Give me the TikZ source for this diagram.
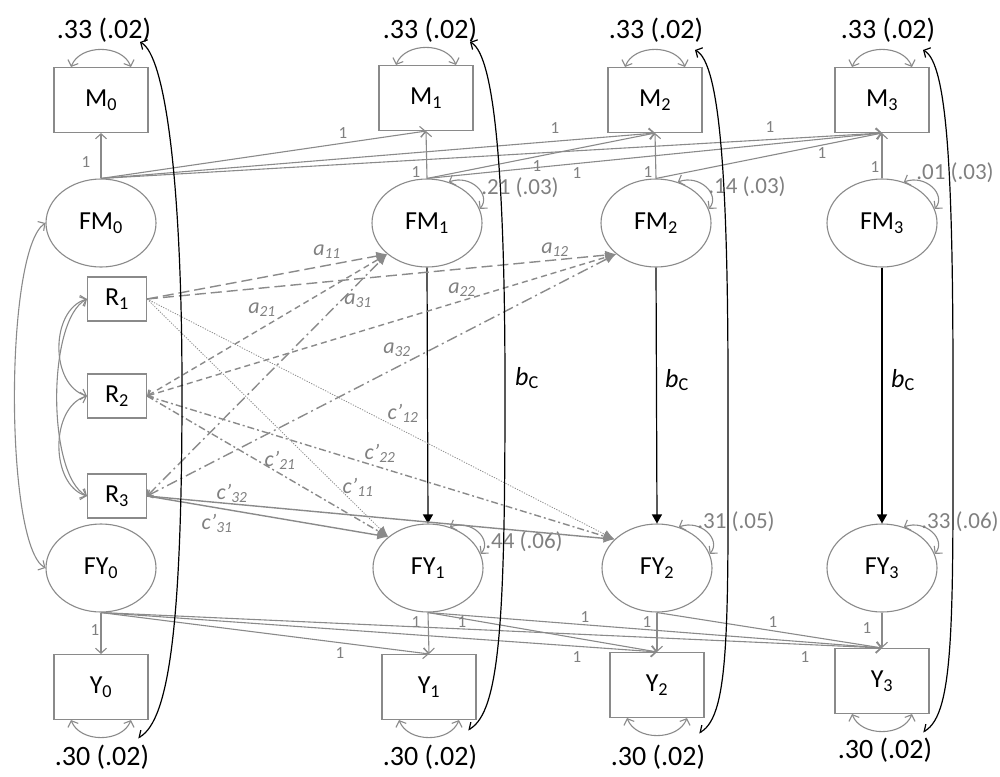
\documentclass[tikz,border=0pt]{standalone}
\usepackage{fontspec}
\setmainfont{Carlito}
\usetikzlibrary{arrows.meta,shapes.geometric}
\definecolor{ln}{RGB}{138,138,138}
\definecolor{tx}{RGB}{128,128,128}
\begin{document}
\begin{tikzpicture}[x=1pt,y=-1pt,
  nfont/.style={font=\fontsize{26}{30}\selectfont},
  box/.style={draw=ln, line width=1.1pt, minimum width=94pt, minimum height=65pt, inner sep=0pt, nfont},
  rbox/.style={draw=ln, line width=1.1pt, minimum width=59pt, minimum height=44pt, inner sep=0pt, nfont},
  lat/.style={ellipse, draw=ln, line width=1.1pt, minimum width=110pt, minimum height=88pt, inner sep=0pt, nfont},
  ld/.style={draw=ln, line width=1.1pt, -{Straight Barb[length=5pt,width=11pt]}},
  cov/.style={draw=ln, line width=1.1pt, {Straight Barb[length=5pt,width=11pt]}-{Straight Barb[length=5pt,width=11pt]}},
  bk/.style={draw=black, line width=1.2pt, -{Triangle[length=9pt,width=10pt]}},
  bc/.style={draw=black, line width=1.2pt, {Straight Barb[length=5pt,width=11pt]}-{Straight Barb[harpoon,swap,length=5pt,width=11pt]}},
  pa/.style={draw=ln, line width=1.4pt, -{Latex[length=11pt,width=9pt]}},
  pas/.style={draw=ln, line width=1.4pt, {Straight Barb[length=4pt,width=9pt]}-{Latex[length=11pt,width=9pt]}},
  longdash/.style={dash pattern=on 11pt off 5pt},
  shortdash/.style={dash pattern=on 6pt off 4pt},
  dashdot/.style={dash pattern=on 11pt off 4pt on 2pt off 4pt},
  dashdotb/.style={dash pattern=on 7pt off 3pt on 2pt off 3pt},
  fine/.style={line width=0.8pt, dash pattern=on 1.2pt off 1.4pt},
  one/.style={text=tx, font=\fontsize{17}{19}\selectfont, inner sep=0pt},
  vtop/.style={text=black, font=\fontsize{28}{32}\selectfont, inner sep=0pt},
  vg/.style={text=tx, font=\fontsize{23}{27}\selectfont, inner sep=0pt},
  plab/.style={text=tx, font=\fontsize{22}{26}\selectfont\itshape, inner sep=0pt},
  blab/.style={text=black, font=\fontsize{26}{30}\selectfont, inner sep=0pt}
]
\useasboundingbox (0,0) rectangle (1000,776);

% observed M
\node[box] (M0) at (101,100) {M\textsubscript{0}};
\node[box] (M1) at (426,98) {M\textsubscript{1}};
\node[box] (M2) at (655,100) {M\textsubscript{2}};
\node[box] (M3) at (882,100) {M\textsubscript{3}};
% latent FM
\node[lat] (FM0) at (101,223) {FM\textsubscript{0}};
\node[lat] (FM1) at (427,223) {FM\textsubscript{1}};
\node[lat] (FM2) at (656,223) {FM\textsubscript{2}};
\node[lat] (FM3) at (882,223) {FM\textsubscript{3}};
% R
\node[rbox] (R1) at (117,299) {R\textsubscript{1}};
\node[rbox] (R2) at (117,396) {R\textsubscript{2}};
\node[rbox] (R3) at (117,496) {R\textsubscript{3}};
% latent FY
\node[lat] (FY0) at (101,568) {FY\textsubscript{0}};
\node[lat] (FY1) at (428,568) {FY\textsubscript{1}};
\node[lat] (FY2) at (657,568) {FY\textsubscript{2}};
\node[lat] (FY3) at (882,568) {FY\textsubscript{3}};
% observed Y
\node[box] (Y0) at (101,687) {Y\textsubscript{0}};
\node[box] (Y1) at (429,687) {Y\textsubscript{1}};
\node[box] (Y2) at (657,685) {Y\textsubscript{2}};
\node[box] (Y3) at (882,681) {Y\textsubscript{3}};

% variance labels
\node[vtop] (vm0) at (104,30) {.33 (.02)};
\node[vtop] (vm1) at (430,30) {.33 (.02)};
\node[vtop] (vm2) at (656,30) {.33 (.02)};
\node[vtop] (vm3) at (888,30) {.33 (.02)};
\node[vtop] (vy0) at (102,757) {.30 (.02)};
\node[vtop] (vy1) at (430,757) {.30 (.02)};
\node[vtop] (vy2) at (658,757) {.30 (.02)};
\node[vtop] (vy3) at (885,750) {.30 (.02)};

% M loops
\foreach \n in {M0,M1,M2,M3}{
  \draw[cov] ([xshift=-30pt]\n.north) .. controls +(9,-23) and +(-9,-23) .. ([xshift=30pt]\n.north);
}
\foreach \n in {Y0,Y1,Y2,Y3}{
  \draw[cov] ([xshift=-30pt]\n.south) .. controls +(9,23) and +(-9,23) .. ([xshift=30pt]\n.south);
}

% residual loops
\foreach \n in {FM1,FM2,FM3,FY1,FY2,FY3}{
  \draw[cov] (\n.62) .. controls +(22,-8) and +(12,-14) .. (\n.15);
}
\node[vg] (rm1) at (520,188) {.21 (.03)};
\node[vg] (rm2) at (747,187) {.14 (.03)};
\node[vg] (rm3) at (955,173) {.01 (.03)};
\node[vg] (ry1) at (524,542) {.44 (.06)};
\node[vg] (ry2) at (736,522) {.31 (.05)};
\node[vg] (ry3) at (960,522) {.33 (.06)};

% loadings FM -> M
\draw[ld] (FM0.north) -- (M0.south);
\draw[ld] (FM0.north) -- (M1.south);
\draw[ld] (FM0.north) -- (M2.south);
\draw[ld] (FM0.north) -- (M3.south);
\draw[ld] (FM1.north) -- (M1.south);
\draw[ld] (FM1.north) -- (M2.south);
\draw[ld] (FM1.north) -- (M3.south);
\draw[ld] (FM2.north) -- (M2.south);
\draw[ld] (FM2.north) -- (M3.south);
\draw[ld] (FM3.north) -- (M3.south);
% loadings FY -> Y
\draw[ld] (FY0.south) -- (Y0.north);
\draw[ld] (FY0.south) -- (Y1.north);
\draw[ld] (FY0.south) -- (Y2.north);
\draw[ld] (FY0.south) -- (Y3.north);
\draw[ld] (FY1.south) -- (Y1.north);
\draw[ld] (FY1.south) -- (Y2.north);
\draw[ld] (FY1.south) -- (Y3.north);
\draw[ld] (FY2.south) -- (Y2.north);
\draw[ld] (FY2.south) -- (Y3.north);
\draw[ld] (FY3.south) -- (Y3.north);

% "1" labels
\node[one] (l1) at (86,162) {1};
\node[one] (l2) at (416,172) {1};
\node[one] (l3) at (648,172) {1};
\node[one] (l4) at (875,167) {1};
\node[one] (l5) at (343,133) {1};
\node[one] (l6) at (555,128) {1};
\node[one] (l7) at (770,127) {1};
\node[one] (l8) at (537,166) {1};
\node[one] (l9) at (577,173) {1};
\node[one] (l10) at (822,153) {1};
\node[one] (l11) at (95,630) {1};
\node[one] (l12) at (416,622) {1};
\node[one] (l13) at (647,622) {1};
\node[one] (l14) at (867,628) {1};
\node[one] (l15) at (340,653) {1};
\node[one] (l16) at (577,657) {1};
\node[one] (l17) at (805,657) {1};
\node[one] (l18) at (462,622) {1};
\node[one] (l19) at (585,617) {1};
\node[one] (l20) at (773,622) {1};

% covariances
\draw[cov] (FM0.west) .. controls +(-41,27) and +(-41,-23) .. (FY0.west);
\draw[cov] (R1.west) .. controls +(-37,11) and +(-37,-11) .. (R2.west);
\draw[cov] (R2.west) .. controls +(-37,11) and +(-37,-11) .. (R3.west);
\draw[cov] (R1.west) .. controls +(-40,21) and +(-40,-21) .. (R3.west);

% b paths
\draw[bk] (FM1.south) -- (FY1.north);
\draw[bk] (FM2.south) -- (FY2.north);
\draw[bk] (FM3.south) -- (FY3.north);
\node[blab] (b1) at (527,378) {\textit{b}\textsubscript{C}};
\node[blab] (b2) at (677,380) {\textit{b}\textsubscript{C}};
\node[blab] (b3) at (903,380) {\textit{b}\textsubscript{C}};

% a paths
\draw[pa,longdash] (R1.east) -- (FM1.218);
\draw[pa,longdash] (R1.east) -- (FM2.218);
\draw[pas,shortdash] (R2.east) -- (FM1.218);
\draw[pas,shortdash] (R2.east) -- (FM2.218);
\draw[pas,dashdot] (R3.east) -- (FM1.218);
\draw[pas,dashdot] (R3.east) -- (FM2.218);
% c' paths
\draw[pa,fine] (R1.east) -- (FY1.142);
\draw[pa,fine] (R1.east) -- (FY2.146);
\draw[pa,dashdotb] (R2.east) -- (FY1.142);
\draw[pa,dashdotb] (R2.east) -- (FY2.146);
\draw[pa] (R3.east) -- (FY1.142);
\draw[pa] (R3.east) -- (FY2.146);

\node[plab] (pa11) at (327,252) {a\textsubscript{11}};
\node[plab] (pa12) at (555,250) {a\textsubscript{12}};
\node[plab] (pa21) at (262,310) {a\textsubscript{21}};
\node[plab] (pa22) at (462,290) {a\textsubscript{22}};
\node[plab] (pa31) at (358,301) {a\textsubscript{31}};
\node[plab] (pa32) at (397,350) {a\textsubscript{32}};
\node[plab] (pc11) at (358,487) {c’\textsubscript{11}};
\node[plab] (pc12) at (403,413) {c’\textsubscript{12}};
\node[plab] (pc21) at (280,460) {c’\textsubscript{21}};
\node[plab] (pc22) at (380,453) {c’\textsubscript{22}};
\node[plab] (pc31) at (217,523) {c’\textsubscript{31}};
\node[plab] (pc32) at (232,493) {c’\textsubscript{32}};

% long black covariance curves
\coordinate (t0) at (140,42);  \coordinate (m0) at (182,390); \coordinate (e0) at (138,738);
\coordinate (t1) at (470,42);  \coordinate (m1) at (505,390); \coordinate (e1) at (468,730);
\coordinate (t2) at (695,50);  \coordinate (m2) at (728,390); \coordinate (e2) at (699,733);
\coordinate (t3) at (923,50);  \coordinate (m3) at (953,390); \coordinate (e3) at (923,732);
\foreach \i in {0,1,2,3}{
  \draw[bc] (t\i) .. controls +(25,13) and +(0,-210) .. (m\i) .. controls +(0,228) and +(32,-18) .. (e\i);
}
\end{tikzpicture}
\end{document}
